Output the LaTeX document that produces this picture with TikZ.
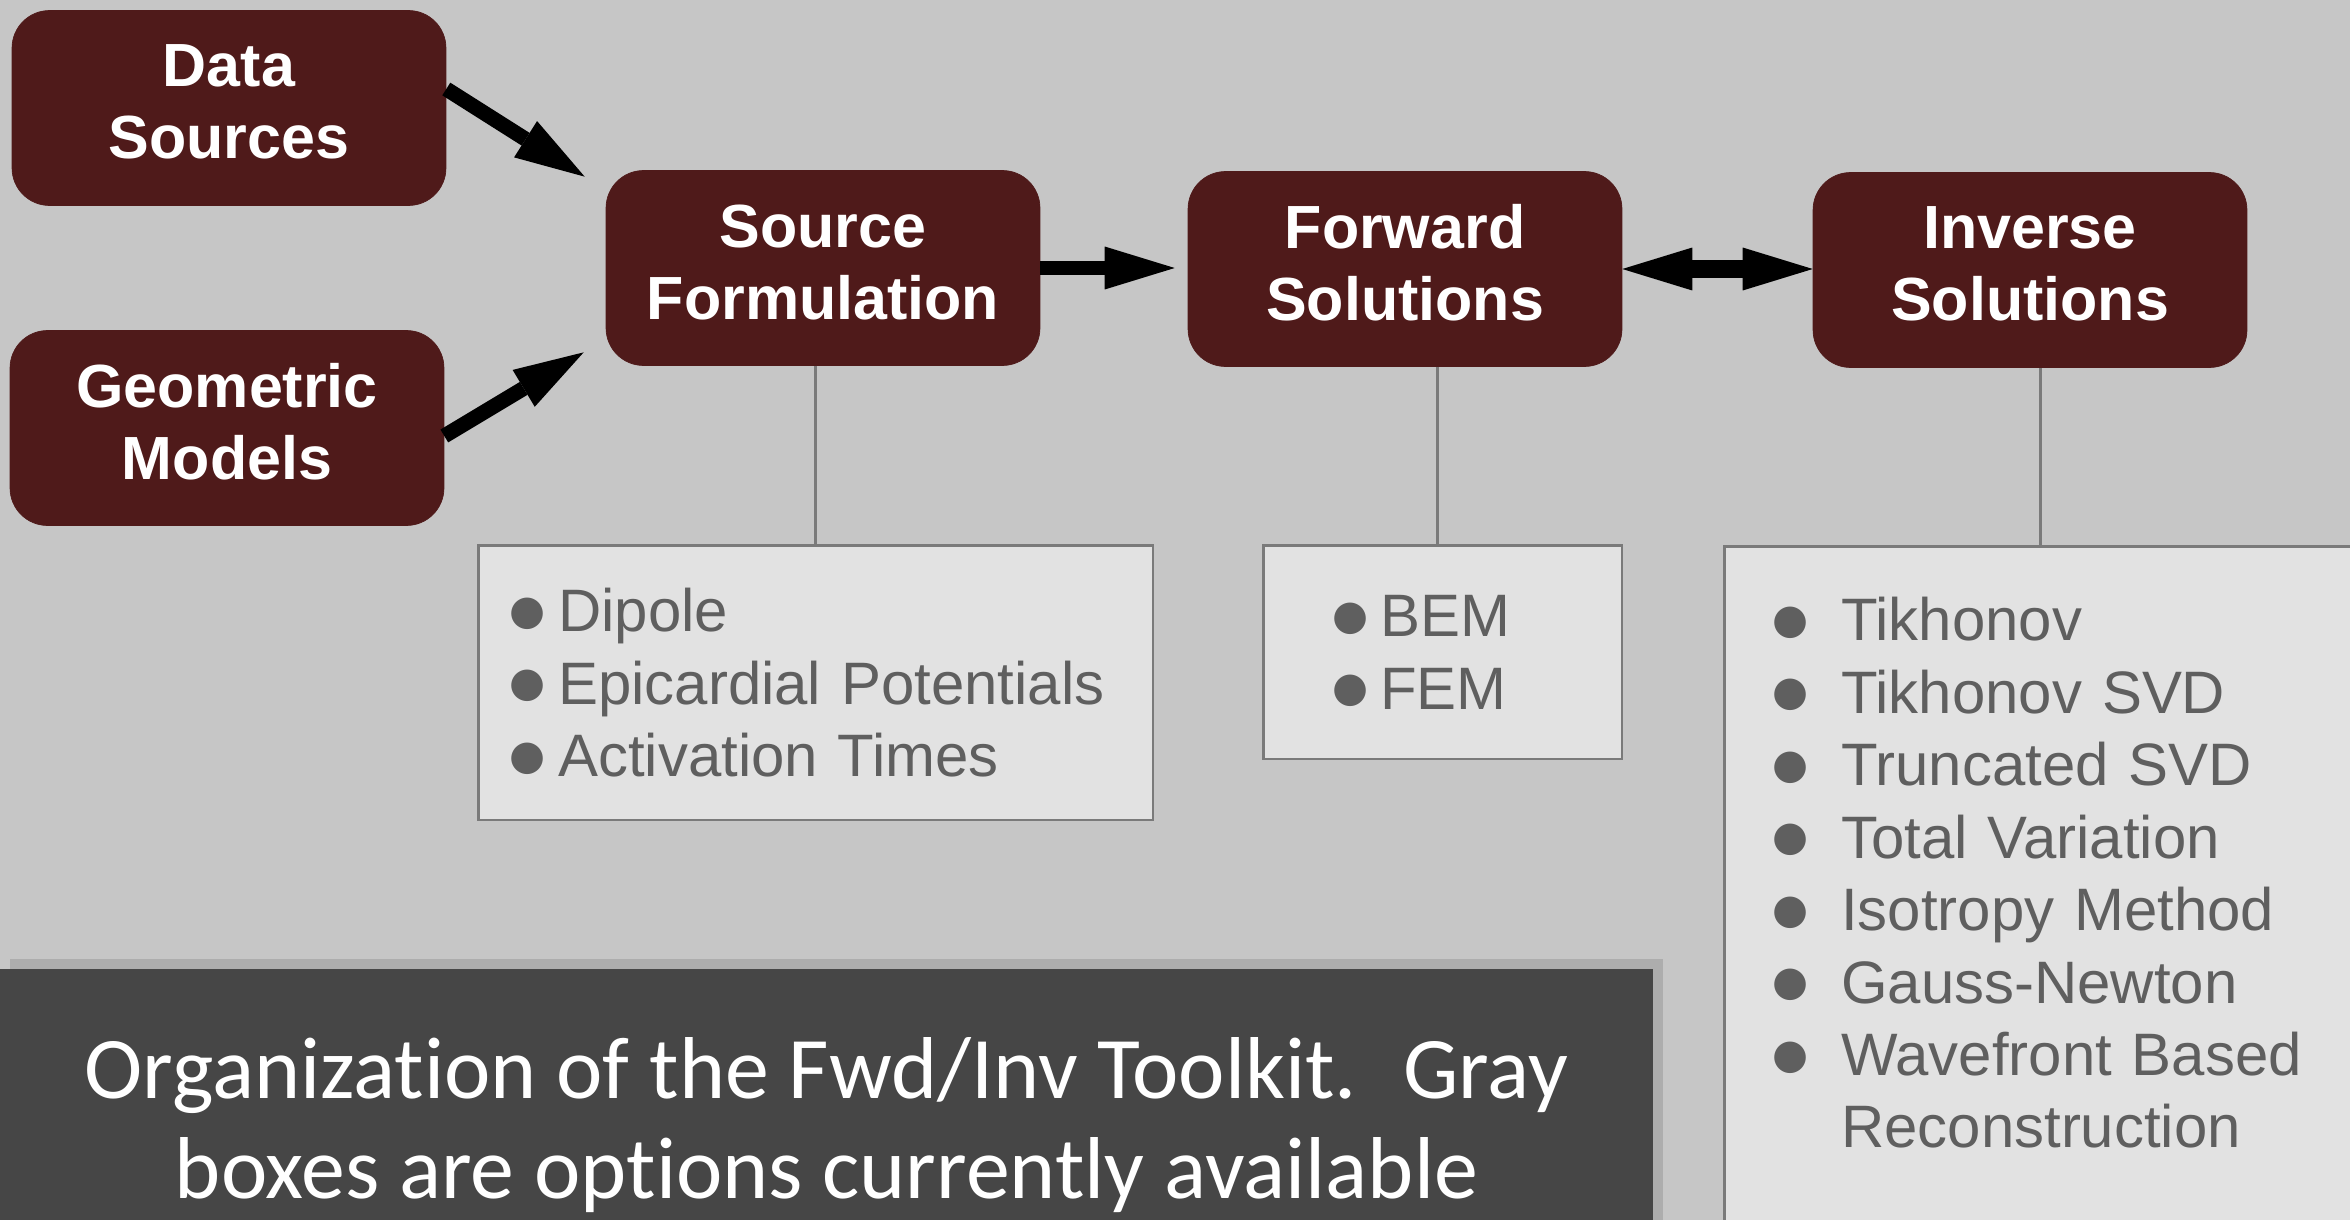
\documentclass[tikz,border=0pt]{standalone}
\usepackage{fontspec}
\setmainfont{Liberation Sans}
\newfontfamily\capfont[Ligatures=CommonOff]{Carlito}
\newfontfamily\dotfont{DejaVu Sans}
\usepackage{tikz}
\usetikzlibrary{arrows.meta,shadows}

\definecolor{bgc}{RGB}{198,198,198}
\definecolor{boxred}{RGB}{79,26,26}
\definecolor{optfill}{RGB}{226,226,226}
\definecolor{optline}{RGB}{122,122,122}
\definecolor{opttext}{RGB}{95,95,95}
\definecolor{capfill}{RGB}{70,70,70}

\newcommand{\bul}[1]{\makebox[#1][l]{\raisebox{0.15cm}{\dotfont\fontsize{23.5}{23.5}\selectfont ●}}}

\begin{document}
\begin{tikzpicture}[
    x=0.02cm, y=-0.02cm,
    blk/.style = {draw=boxred, fill=boxred, rounded corners=0.75cm,
                  minimum width=8.68cm, minimum height=3.9cm, align=center,
                  text=white, font=\fontsize{34.7}{41}\selectfont\bfseries,
                  execute at end node={\rule[-7pt]{0pt}{7pt}}},
    opt/.style = {draw=optline, line width=0.05cm, fill=optfill, anchor=north west,
                  align=left, text=opttext, font=\fontsize{34.1}{41.25}\selectfont},
    ar/.style  = {-{Triangle[length=1.4cm,width=0.86cm,line width=0pt]}, line width=0.3cm},
    dar/.style = {{Triangle[length=1.4cm,width=0.86cm,line width=0pt]}-{Triangle[length=1.4cm,width=0.86cm,line width=0pt]},
                  line width=0.36cm},
    ln/.style  = {draw=optline, line width=0.06cm},
    notebox/.style = {fill=capfill, minimum width=33.06cm, minimum height=6.24cm,
                  text=white, align=center, font=\capfont\fontsize{50}{56.9}\selectfont,
                  drop shadow={shadow xshift=0.2cm, shadow yshift=0.2cm, opacity=0.35}},
]

\useasboundingbox (0,0) rectangle (2350,1220);
\fill[bgc] (0,0) rectangle (2350,1220);
\clip (0,0) rectangle (2350,1220);

%--- main blocks
\node[blk] (data) at (229,108) {Data\\Sources};
\node[blk] (geom) at (227,428) {Geometric\\Models};
\node[blk] (src)  at (823,268) {Source\\Formulation};
\node[blk] (fwd)  at (1405,269) {Forward\\Solutions};
\node[blk] (inv)  at (2030,270) {Inverse\\Solutions};

%--- option boxes
\node[opt, minimum width=13.5cm, minimum height=5.5cm, text width=12.26cm, inner xsep=0.62cm]
    (srcopt) at (477,544)
    {\bul{0.98cm}Dipole\\\bul{0.98cm}Epicardial Potentials\\\bul{0.98cm}Activation Times};
\node[opt, minimum width=7.18cm, minimum height=4.28cm, text width=4.42cm, inner xsep=1.38cm]
    (fwdopt) at (1262,544)
    {\bul{0.96cm}BEM\\\bul{0.96cm}FEM};
\node[opt, text width=10.72cm, inner xsep=0.96cm, inner ysep=1.02cm, text depth=13.5cm]
    (invopt) at (1723,545)
    {\bul{1.38cm}Tikhonov\\\bul{1.38cm}Tikhonov SVD\\\bul{1.38cm}Truncated SVD\\
     \bul{1.38cm}Total Variation\\\bul{1.38cm}Isotropy Method\\\bul{1.38cm}Gauss-Newton\\
     \bul{1.38cm}Wavefront Based\\\hspace*{1.38cm}Reconstruction};

%--- connectors
\draw[ln] (srcopt.north) -- (srcopt.north |- src.south);
\draw[ln] ([xshift=-0.1cm]fwdopt.north) -- ([xshift=-0.1cm]fwdopt.north |- fwd.south);
\draw[ln] (invopt.north) -- (invopt.north |- inv.south);

%--- arrows
\draw[ar] ([yshift=0.38cm]data.east) -- ([xshift=-0.42cm,yshift=-0.13cm]src.north west);
\draw[ar] ([yshift=-0.16cm]geom.east) -- ([xshift=-0.44cm,yshift=0.27cm]src.south west);
\draw[ar, shorten >=0.26cm] (src.east) -- (src.east -| fwd.west);
\draw[dar] (fwd.east) -- (fwd.east -| inv.west);

%--- caption
\node[notebox] (note) at (826.5,1125)
    {Organization of the Fwd/Inv Toolkit.~ Gray\\boxes are options currently available};

\end{tikzpicture}
\end{document}
